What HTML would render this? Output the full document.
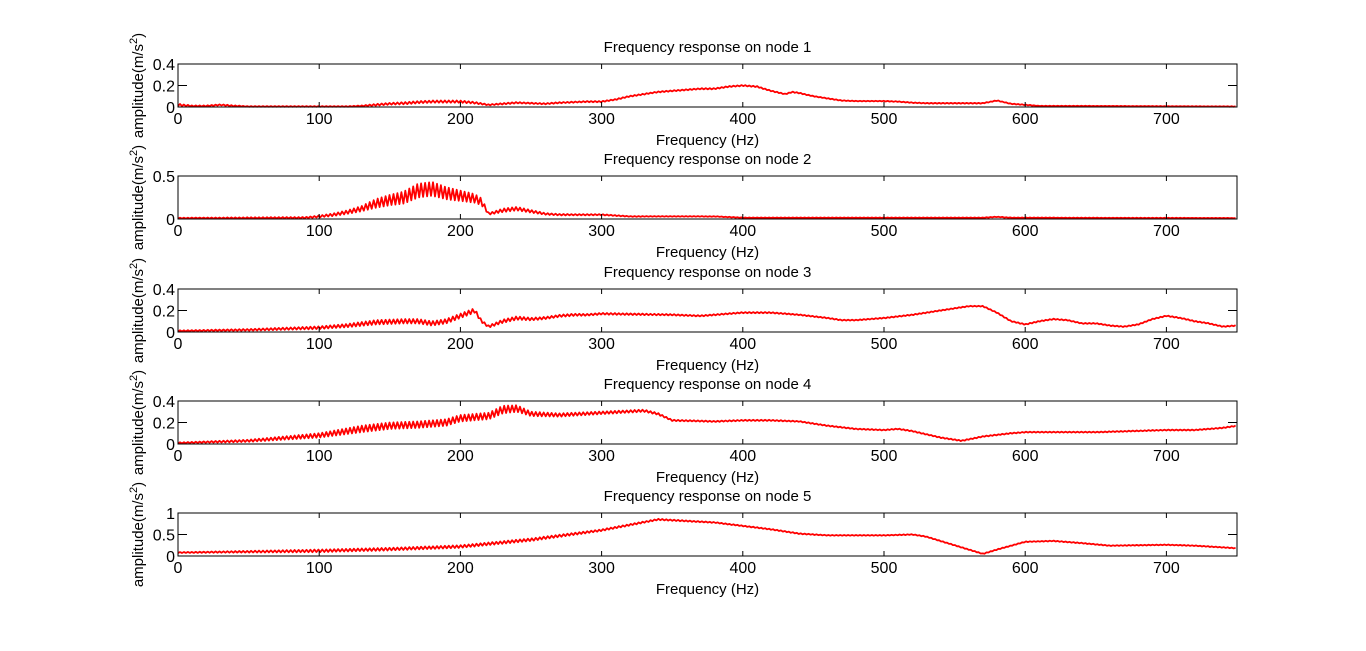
<!DOCTYPE html>
<html><head><meta charset="utf-8"><style>
body{margin:0;background:#fff;}
svg{display:block;font-family:"Liberation Sans",Arial,sans-serif;}
</style></head><body>
<svg id="chart" width="1366" height="651"></svg>
<script>
const xTicks=[0,100,200,300,400,500,600,700];
const titles=["Frequency response on node 1","Frequency response on node 2","Frequency response on node 3","Frequency response on node 4","Frequency response on node 5"];
const yMax=[0.4,0.5,0.4,0.4,1];
const yTicks=[[0,0.2,0.4],[0,0.5],[0,0.2,0.4],[0,0.2,0.4],[0,0.5,1]];
const yTickLabels=[["0","0.2","0.4"],["0","0.5"],["0","0.2","0.4"],["0","0.2","0.4"],["0","0.5","1"]];
const f1=[0,10,20,30,40,50,120,130,140,150,160,170,180,190,200,210,220,230,240,250,260,270,280,290,300,310,320,330,340,350,360,370,380,390,400,410,420,430,435,440,450,460,470,480,500,510,520,530,570,580,590,600,610,750];
const v1=[0.02,0.01,0.01,0.02,0.01,0.005,0.005,0.01,0.02,0.03,0.035,0.045,0.05,0.05,0.05,0.04,0.02,0.03,0.04,0.035,0.03,0.04,0.045,0.05,0.05,0.07,0.1,0.12,0.14,0.15,0.16,0.17,0.17,0.19,0.2,0.19,0.15,0.12,0.14,0.13,0.1,0.08,0.06,0.055,0.055,0.05,0.04,0.035,0.035,0.06,0.03,0.02,0.01,0.005];
const r1=[0.01,0.005,0.005,0.005,0.005,0.003,0.003,0.005,0.008,0.008,0.01,0.01,0.01,0.01,0.01,0.008,0.005,0.006,0.006,0.005,0.005,0.005,0.005,0.005,0.005,0.005,0.005,0.005,0.005,0.005,0.005,0.005,0.005,0.005,0.005,0.005,0.004,0.004,0.004,0.004,0.003,0.003,0.003,0.003,0.003,0.003,0.003,0.003,0.003,0.003,0.003,0.003,0.002,0.002];
const f2=[0,90,100,110,120,130,140,150,160,170,180,190,200,210,215,220,230,240,250,260,270,300,310,320,380,400,570,580,590,750];
const v2=[0.01,0.015,0.03,0.05,0.08,0.12,0.18,0.22,0.25,0.33,0.35,0.3,0.27,0.24,0.2,0.06,0.1,0.12,0.09,0.06,0.05,0.05,0.04,0.03,0.03,0.015,0.015,0.025,0.015,0.01];
const r2=[0.005,0.008,0.01,0.015,0.02,0.03,0.05,0.06,0.07,0.08,0.08,0.07,0.06,0.05,0.04,0.01,0.02,0.02,0.015,0.01,0.008,0.006,0.005,0.004,0.003,0.003,0.003,0.003,0.003,0.002];
const f3=[0,50,100,120,140,160,170,180,190,200,210,215,220,230,240,250,260,270,280,290,300,350,370,400,420,440,460,470,480,500,520,540,560,570,580,590,600,610,620,630,640,650,660,670,680,690,700,710,720,730,740,750];
const v3=[0.01,0.02,0.04,0.06,0.09,0.1,0.1,0.08,0.1,0.15,0.2,0.1,0.05,0.1,0.13,0.12,0.13,0.15,0.16,0.16,0.17,0.16,0.15,0.18,0.18,0.16,0.13,0.11,0.11,0.13,0.16,0.2,0.24,0.24,0.18,0.1,0.07,0.1,0.12,0.11,0.08,0.08,0.06,0.05,0.07,0.12,0.15,0.13,0.1,0.08,0.05,0.06];
const r3=[0.005,0.008,0.012,0.015,0.02,0.02,0.02,0.02,0.02,0.02,0.02,0.01,0.01,0.015,0.015,0.012,0.01,0.01,0.01,0.008,0.008,0.006,0.005,0.005,0.005,0.004,0.004,0.004,0.004,0.004,0.004,0.004,0.004,0.004,0.004,0.004,0.004,0.004,0.004,0.004,0.004,0.004,0.004,0.004,0.004,0.004,0.004,0.004,0.004,0.004,0.004,0.004];
const f4=[0,50,100,130,150,170,190,200,210,220,230,240,250,270,300,330,340,350,380,400,420,440,460,480,500,510,520,540,555,570,590,600,650,700,720,740,750];
const v4=[0.01,0.03,0.08,0.14,0.17,0.18,0.2,0.24,0.25,0.26,0.32,0.33,0.28,0.27,0.29,0.31,0.28,0.22,0.21,0.22,0.22,0.21,0.17,0.14,0.13,0.14,0.12,0.06,0.03,0.07,0.1,0.11,0.11,0.13,0.13,0.15,0.17];
const r4=[0.005,0.01,0.02,0.03,0.03,0.03,0.03,0.03,0.03,0.03,0.035,0.03,0.02,0.015,0.012,0.01,0.008,0.006,0.005,0.005,0.005,0.004,0.004,0.004,0.004,0.004,0.004,0.004,0.004,0.004,0.004,0.004,0.004,0.004,0.004,0.004,0.004];
const f5=[0,100,150,200,250,300,340,380,400,420,440,460,500,520,530,550,570,580,600,620,640,660,700,720,750];
const v5=[0.08,0.12,0.16,0.22,0.38,0.6,0.85,0.78,0.7,0.62,0.52,0.48,0.48,0.5,0.45,0.25,0.05,0.15,0.33,0.35,0.3,0.24,0.26,0.24,0.18];
const r5=[0.01,0.03,0.03,0.03,0.03,0.02,0.015,0.01,0.01,0.01,0.01,0.008,0.008,0.008,0.008,0.008,0.008,0.008,0.008,0.008,0.008,0.008,0.008,0.008,0.008];
const freqs=[f1,f2,f3,f4,f5], vals=[v1,v2,v3,v4,v5], ripples=[r1,r2,r3,r4,r5];

const NS="http://www.w3.org/2000/svg";
const svg=document.getElementById('chart');
const L=178,R=1237,H=43,tops=[64,176,289,401,513];
const FS=16;
function mk(t,a,p){const e=document.createElementNS(NS,t);for(const k in a)e.setAttribute(k,a[k]);(p||svg).appendChild(e);return e;}
function interp(fs,vs,f){for(let i=1;i<fs.length;i++){if(f<=fs[i]){const t=(f-fs[i-1])/(fs[i]-fs[i-1]);return vs[i-1]+t*(vs[i]-vs[i-1]);}}return vs[vs.length-1];}
for(let k=0;k<5;k++){
  const T=tops[k],B=T+H;
  const xs=f=>L+f/750*(R-L);
  const ys=v=>B-v/yMax[k]*H;
  const g=mk('g',{});
  
  
  let d='';const step=1.4;let n=0;
  for(let f=0;f<=750;f+=step,n++){
    const v=interp(freqs[k],vals[k],f), r=interp(freqs[k],ripples[k],f);
    const y=Math.max(T,Math.min(B,ys(v+(n%2?r:-r))));
    d+=(n?'L':'M')+xs(f).toFixed(1)+','+y.toFixed(1);
  }
  const p=mk('path',{d:d,fill:'none',stroke:'#ff0000','stroke-width':1.8,'stroke-linejoin':'round'},g);
  
  
  const box=mk('rect',{x:L,y:T,width:R-L,height:H,fill:'none',stroke:'#000','stroke-width':1},g);
  
  
  xTicks.forEach(t=>{
    const x=xs(t);
    mk('line',{x1:x,x2:x,y1:B,y2:B-5,stroke:'#000'},g);
    mk('line',{x1:x,x2:x,y1:T,y2:T+5,stroke:'#000'},g);
    const tx=mk('text',{x:x,y:B+17,'font-size':FS,'text-anchor':'middle'},g);tx.textContent=t;
    
    
  });
  yTicks[k].forEach((t,i)=>{
    const y=ys(t);
    mk('line',{x1:L,x2:L+9,y1:y,y2:y,stroke:'#000'},g);
    mk('line',{x1:R,x2:R-9,y1:y,y2:y,stroke:'#000'},g);
    const tx=mk('text',{x:L-3,y:y+6,'font-size':FS,'text-anchor':'end'},g);tx.textContent=yTickLabels[k][i];
    
    
  });
  const ti=mk('text',{x:(L+R)/2,y:T-12,'font-size':FS-1,'text-anchor':'middle'},g);ti.textContent=titles[k];
  
  
  const xl=mk('text',{x:(L+R)/2,y:B+38,'font-size':FS-1,'text-anchor':'middle'},g);xl.textContent='Frequency (Hz)';
  
  
  const cy=T+H/2;
  const yl=mk('text',{x:0,y:0,'font-size':FS-1,'text-anchor':'middle',transform:'translate(143,'+cy+') rotate(-90)'},g);
  
  
  yl.innerHTML='amplitude(m/s<tspan dy="-6" font-size="11">2</tspan><tspan dy="6">)</tspan>';
}
</script>
</body></html>
